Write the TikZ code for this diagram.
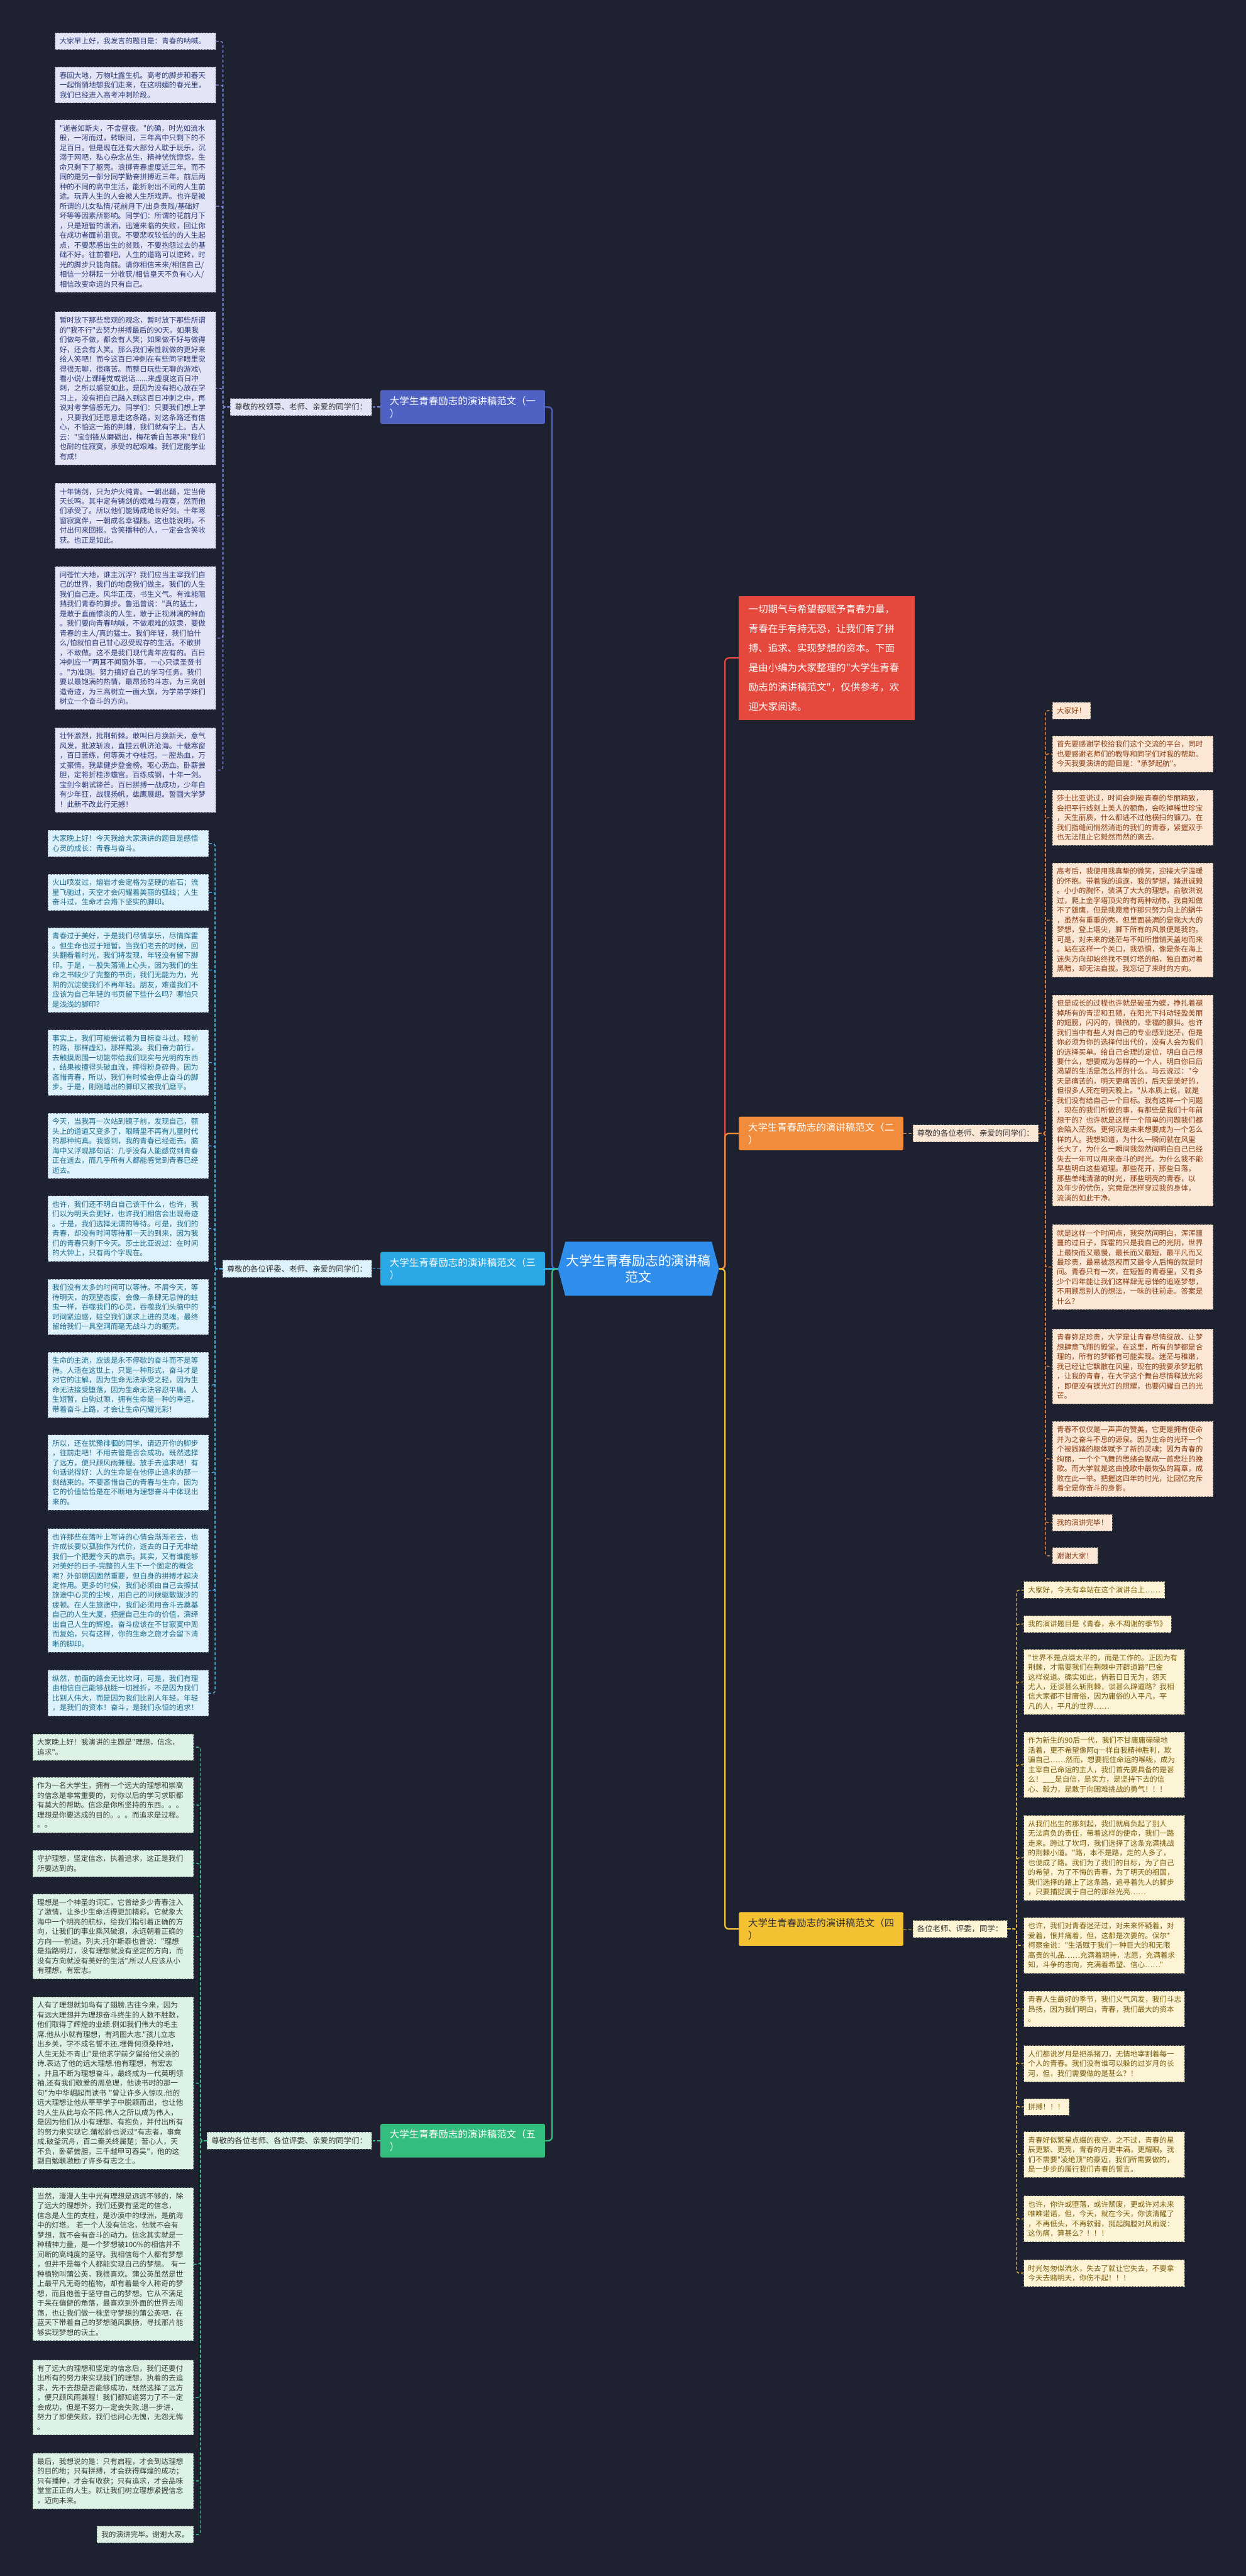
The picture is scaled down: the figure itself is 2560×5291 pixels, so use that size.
\documentclass[tikz,border=0pt]{standalone}
\usepackage{fontspec}
\setmonofont{Noto Sans CJK SC}
\usetikzlibrary{shapes.symbols}
\definecolor{bg}{HTML}{1E2130}
\definecolor{fA}{HTML}{E3E5F7}\definecolor{tA}{HTML}{2E3B78}\definecolor{kA}{HTML}{7C8CE0}\definecolor{nA}{HTML}{4F62C4}
\definecolor{fC}{HTML}{DDF2FA}\definecolor{tC}{HTML}{1D6B8E}\definecolor{kC}{HTML}{45AEE6}\definecolor{nC}{HTML}{2AA7E5}
\definecolor{fE}{HTML}{DCF2E6}\definecolor{tE}{HTML}{3B403D}\definecolor{kE}{HTML}{3DBF8C}\definecolor{nE}{HTML}{33BE7D}
\definecolor{fB}{HTML}{FBE7D6}\definecolor{tB}{HTML}{8A3C10}\definecolor{kB}{HTML}{D9823F}\definecolor{nB}{HTML}{F08C3C}
\definecolor{fD}{HTML}{FCF4D4}\definecolor{tD}{HTML}{7A5B0C}\definecolor{kD}{HTML}{E8BE3E}\definecolor{nD}{HTML}{F4C132}
\definecolor{redn}{HTML}{E5483C}\definecolor{cen}{HTML}{2F8DEB}
\newcommand\fleaf{\ttfamily\fontsize{15pt}{20pt}\selectfont}
\newcommand\flab{\ttfamily\fontsize{16pt}{20pt}\selectfont}
\newcommand\fbr{\ttfamily\fontsize{20pt}{26pt}\selectfont}
\begin{document}
\begin{tikzpicture}[x=1pt,y=-1pt,
  leaf/.style={draw=#1!55!black, dashed, line width=1.2pt, inner xsep=9pt, inner ysep=10pt, font=\fleaf, align=left},
  wide/.style={text width=312pt},
  lfA/.style={leaf=fA, fill=fA, text=tA, anchor=north east},
  lfC/.style={leaf=fC, fill=fC, text=tC, anchor=north east},
  lfE/.style={leaf=fE, fill=fE, text=tE, anchor=north east},
  lfB/.style={leaf=fB, fill=fB, text=tB, anchor=north west},
  lfD/.style={leaf=fD, fill=fD, text=tD, anchor=north west},
  lab/.style={draw=#1!55!black, fill=#1, dashed, line width=1.2pt, inner xsep=9pt, inner ysep=10pt, font=\flab, text=black!80},
  brn/.style={fill=#1, text=white, rounded corners=3pt, inner xsep=19pt, inner ysep=12pt, font=\fbr, align=left, text width=300pt},
  kon/.style={draw=#1, dashed, dash pattern=on 6pt off 4pt, line width=1.8pt, rounded corners=5pt},
  main/.style={draw=#1, line width=3pt, rounded corners=8pt}]
\fill[bg] (0,0) rectangle (2560,5291);
\useasboundingbox (0,0) rectangle (2560,5291);

% ---------- centre ----------
\node[signal, signal to=west and east, signal pointer angle=150, fill=cen, text=white, inner xsep=2pt, inner ysep=26pt, font=\ttfamily\fontsize{27pt}{34pt}\selectfont, align=center] (cn) at (1312,2606) {大学生青春励志的演讲稿\\范文};

\node[fill=redn, text=white, anchor=north west, inner xsep=20pt, inner ysep=18pt, font=\ttfamily\fontsize{20pt}{40pt}\selectfont, align=left, text width=321pt] (intro) at (1518,1224) {一切期气与希望都赋予青春力量，\\青春在手有持无恐，让我们有了拼\\搏、追求、实现梦想的资本。下面\\是由小编为大家整理的"大学生青春\\励志的演讲稿范文"，仅供参考，欢\\迎大家阅读。};

% ---------- branch nodes ----------
\node[brn=nA, anchor=east] (b1) at (1120,836) {大学生青春励志的演讲稿范文（一\\）};
\node[brn=nB, anchor=west] (b2) at (1518,2328) {大学生青春励志的演讲稿范文（二\\）};
\node[brn=nC, anchor=east] (b3) at (1120,2606) {大学生青春励志的演讲稿范文（三\\）};
\node[brn=nD, text=black!80, anchor=west] (b4) at (1518,3962) {大学生青春励志的演讲稿范文（四\\）};
\node[brn=nE, anchor=east] (b5) at (1120,4397) {大学生青春励志的演讲稿范文（五\\）};

\draw[main=nA] (cn.west) -- ++(-12,0) |- (b1.east);
\draw[main=nC] (cn.west) -- (b3.east);
\draw[main=nE] (cn.west) -- ++(-12,0) |- (b5.east);
\draw[main=redn] (cn.east) -- ++(12,0) |- (intro.west);
\draw[main=nB] (cn.east) -- ++(12,0) |- (b2.west);
\draw[main=nD] (cn.east) -- ++(12,0) |- (b4.west);

% ---------- labels ----------
\node[lab=fA, anchor=east] (L1) at (764,836) {尊敬的校领导、老师、亲爱的同学们：};
\node[lab=fC, anchor=east] (L3) at (764,2606) {尊敬的各位评委、老师、亲爱的同学们：};
\node[lab=fE, anchor=east] (L5) at (764,4397) {尊敬的各位老师、各位评委、亲爱的同学们：};
\node[lab=fB, anchor=west] (L2) at (1875,2328) {尊敬的各位老师、亲爱的同学们：};
\node[lab=fD, anchor=west] (L4) at (1875,3962) {各位老师、评委，同学：};
\draw[kon=kA] (b1.west) -- (L1.east);
\draw[kon=kC] (b3.west) -- (L3.east);
\draw[kon=kE] (b5.west) -- (L5.east);
\draw[kon=kB] (b2.east) -- (L2.west);
\draw[kon=kD] (b4.east) -- (L4.west);
\coordinate (v1) at (458,836);
\coordinate (v3) at (442,2606);
\coordinate (v5) at (412,4397);
\coordinate (v2) at (2148,2328);
\coordinate (v4) at (2089,3962);

% ---------- branch 1 ----------
\node[lfA, wide] (a1) at (444,67) {大家早上好，我发言的题目是：青春的呐喊。};
\node[lfA, wide] (a2) at (444,137) {春回大地，万物吐露生机。高考的脚步和春天\\一起悄悄地想我们走来，在这明媚的春光里，\\我们已经进入高考冲刺阶段。};
\node[lfA, wide] (a3) at (444,246) {"逝者如斯夫，不舍昼夜。"的确，时光如流水\\般，一泻而过，转眼间，三年高中只剩下的不\\足百日。但是现在还有大部分人耽于玩乐，沉\\溺于网吧，私心杂念丛生，精神恍恍惚惚，生\\命只剩下了躯壳。浪掷青春虚度近三年。而不\\同的是另一部分同学勤奋拼搏近三年。前后两\\种的不同的高中生活，能折射出不同的人生前\\途。玩弄人生的人会被人生所戏弄。也许是被\\所谓的儿女私情/花前月下/出身贵贱/基础好\\坏等等因素所影响。同学们：所谓的花前月下\\，只是短暂的潇洒，迅速来临的失败，回让你\\在成功者面前沮丧。不要悲叹较低的的人生起\\点，不要悲感出生的贫贱，不要抱怨过去的基\\础不好。往前看吧，人生的道路可以逆转，时\\光的脚步只能向前。请你相信未来/相信自己/\\相信一分耕耘一分收获/相信皇天不负有心人/\\相信改变命运的只有自己。};
\node[lfA, wide] (a4) at (444,640) {暂时放下那些悲观的观念，暂时放下那些所谓\\的"我不行"去努力拼搏最后的90天。如果我\\们做与不做，都会有人笑；如果做不好与做得\\好，还会有人笑。那么我们索性就做的更好来\\给人笑吧！而今这百日冲刺在有些同学眼里觉\\得很无聊，很痛苦。而整日玩些无聊的游戏\textbackslash\\看小说/上课睡觉或说话......来虚度这百日冲\\刺，之所以感觉如此，是因为没有把心放在学\\习上，没有把自己融入到这百日冲刺之中，再\\说对考学倍感无力。同学们：只要我们想上学\\，只要我们还愿意走这条路，对这条路还有信\\心，不怕这一路的荆棘，我们就有学上。古人\\云："宝剑锋从磨砺出，梅花香自苦寒来"我们\\也耐的住寂寞，承受的起艰难。我们定能学业\\有成！};
\node[lfA, wide] (a5) at (444,992) {十年铸剑，只为炉火纯青。一朝出鞘，定当倚\\天长鸣。其中定有铸剑的艰难与寂寞，然而他\\们承受了。所以他们能铸成绝世好剑。十年寒\\窗寂寞伴，一朝成名幸福随。这也能说明，不\\付出何来回报。含笑播种的人，一定会含笑收\\获。也正是如此。};
\node[lfA, wide] (a6) at (444,1163) {问苍忙大地，谁主沉浮？我们应当主宰我们自\\己的世界，我们的地盘我们做主。我们的人生\\我们自己走。风华正茂，书生义气。有谁能阻\\挡我们青春的脚步。鲁迅曾说："真的猛士，\\是敢于直面惨淡的人生，敢于正视淋漓的鲜血\\。我们要向青春呐喊，不做艰难的奴隶，要做\\青春的主人/真的猛士。我们年轻，我们怕什\\么/怕就怕自己甘心忍受现存的生活。不敢拼\\，不敢做。这不是我们现代青年应有的。百日\\冲刺应一"两耳不闻窗外事，一心只读圣贤书\\。"为准则。努力搞好自己的学习任务。我们\\要以最饱满的热情，最昂扬的斗志，为三高创\\造奇迹，为三高树立一面大旗，为学弟学妹们\\树立一个奋斗的方向。};
\node[lfA, wide] (a7) at (444,1494) {壮怀激烈，批荆斩棘。敢叫日月换新天，意气\\风发，批波斩浪，直挂云帆济沧海。十载寒窗\\，百日苦练，何等英才夺桂冠。一腔热血，万\\丈豪情。我辈健步登金榜。呕心沥血。卧薪尝\\胆，定将折桂涉蟾宫。百练成钢，十年一剑。\\宝剑今朝试锋芒。百日拼搏一战成功，少年自\\有少年狂，战舰扬帆，雄鹰展翅。誓圆大学梦\\！此新不改此行无撼！};
\foreach \n in {a1,a2,a3,a4,a5,a6,a7} \draw[kon=kA] (L1.west) -- (v1) |- (\n.east);

% ---------- branch 3 ----------
\node[lfC, wide] (c1) at (429,1705) {大家晚上好！今天我给大家演讲的题目是感悟\\心灵的成长：青春与奋斗。};
\node[lfC, wide] (c2) at (429,1795) {火山喷发过，熔岩才会定格为坚硬的岩石；流\\星飞驰过，天空才会闪耀着美丽的弧线；人生\\奋斗过，生命才会烙下坚实的脚印。};
\node[lfC, wide] (c3) at (429,1905) {青春过于美好，于是我们尽情享乐，尽情挥霍\\。但生命也过于短暂，当我们老去的时候，回\\头翻看着时光，我们将发现，年轻没有留下脚\\印。于是，一股失落涌上心头，因为我们的生\\命之书缺少了完整的书页，我们无能为力，光\\阴的沉淀使我们不再年轻。朋友，难道我们不\\应该为自己年轻的书页留下些什么吗？哪怕只\\是浅浅的脚印？};
\node[lfC, wide] (c4) at (429,2115) {事实上，我们可能尝试着为目标奋斗过。眼前\\的路，那样虚幻，那样黯淡。我们奋力前行，\\去触摸周围一切能带给我们现实与光明的东西\\，结果被撞得头破血流，摔得粉身碎骨。因为\\吝惜青春，所以，我们有时候会停止奋斗的脚\\步。于是，刚刚踏出的脚印又被我们磨平。};
\node[lfC, wide] (c5) at (429,2286) {今天，当我再一次站到镜子前，发现自己，额\\头上的道道又变多了，眼睛里不再有儿童时代\\的那种纯真。我感到，我的青春已经逝去。脑\\海中又浮现那句话：几乎没有人能感觉到青春\\正在逝去，而几乎所有人都能感觉到青春已经\\逝去。};
\node[lfC, wide] (c6) at (429,2456) {也许，我们还不明白自己该干什么，也许，我\\们以为明天会更好，也许我们相信会出现奇迹\\。于是，我们选择无谓的等待。可是，我们的\\青春，却没有时间等待那一天的到来，因为我\\们的青春只剩下今天。莎士比亚说过：在时间\\的大钟上，只有两个字现在。};
\node[lfC, wide] (c7) at (429,2627) {我们没有太多的时间可以等待。不屑今天，等\\待明天，的观望态度，会像一条肆无忌惮的蛀\\虫一样，吞噬我们的心灵，吞噬我们头脑中的\\时间紧迫感，蛀空我们谋求上进的灵魂。最终\\留给我们一具空洞而毫无战斗力的躯壳。};
\node[lfC, wide] (c8) at (429,2777) {生命的主流，应该是永不停歇的奋斗而不是等\\待。人活在这世上，只是一种形式，奋斗才是\\对它的注解，因为生命无法承受之轻，因为生\\命无法接受堕落，因为生命无法容忍平庸。人\\生短暂，白驹过隙，拥有生命是一种的幸运，\\带着奋斗上路，才会让生命闪耀光彩！};
\node[lfC, wide] (c9) at (429,2947) {所以，还在犹豫徘徊的同学，请迈开你的脚步\\，往前走吧！不用去管是否会成功。既然选择\\了远方，便只顾风雨兼程。放手去追求吧！有\\句话说得好：人的生命是在他停止追求的那一\\刻结束的。不要吝惜自己的青春与生命，因为\\它的价值恰恰是在不断地为理想奋斗中体现出\\来的。};
\node[lfC, wide] (c10) at (429,3139) {也许那些在落叶上写诗的心情会渐渐老去，也\\许成长要以孤独作为代价，逝去的日子无非给\\我们一个把握今天的启示。其实，又有谁能够\\对美好的日子-完整的人生下一个固定的概念\\呢？外部原因固然重要，但自身的拼搏才起决\\定作用。更多的时候，我们必须由自己去擦拭\\旅途中心灵的尘埃，用自己的问候驱散跋涉的\\疲顿。在人生旅途中，我们必须用奋斗去奠基\\自己的人生大厦，把握自己生命的价值，演绎\\出自己人生的辉煌。奋斗应该在不甘寂寞中周\\而复始，只有这样，你的生命之旅才会留下清\\晰的脚印。};
\node[lfC, wide] (c11) at (429,3430) {纵然，前面的路会无比坎坷，可是，我们有理\\由相信自己能够战胜一切挫折，不是因为我们\\比别人伟大，而是因为我们比别人年轻。年轻\\，是我们的资本！奋斗，是我们永恒的追求！};
\foreach \n in {c1,c2,c3,c4,c5,c6,c7,c8,c9,c10,c11} \draw[kon=kC] (L3.west) -- (v3) |- (\n.east);

% ---------- branch 5 ----------
\node[lfE, wide] (e1) at (398,3561) {大家晚上好！我演讲的主题是"理想，信念，\\追求"。};
\node[lfE, wide] (e2) at (398,3650) {作为一名大学生，拥有一个远大的理想和崇高\\的信念是非常重要的，对你以后的学习求职都\\有莫大的帮助。信念是你所坚持的东西。。。\\理想是你要达成的目的。。。而追求是过程。\\。。};
\node[lfE, wide] (e3) at (398,3800) {守护理想，坚定信念，执着追求，这正是我们\\所要达到的。};
\node[lfE, wide] (e4) at (398,3890) {理想是一个神圣的词汇，它曾给多少青春注入\\了激情，让多少生命活得更加精彩。它就象大\\海中一个明亮的航标，给我们指引着正确的方\\向，让我们的事业乘风破浪，永远朝着正确的\\方向——前进。列夫.托尔斯泰也曾说："理想\\是指路明灯，没有理想就没有坚定的方向，而\\没有方向就没有美好的生活".所以人应该从小\\有理想，有宏志。};
\node[lfE, wide] (e5) at (398,4101) {人有了理想就如鸟有了翅膀.古往今来，因为\\有远大理想并为理想奋斗终生的人数不胜数，\\他们取得了辉煌的业绩.例如我们伟大的毛主\\席.他从小就有理想，有鸿图大志."孩儿立志\\出乡关，学不成名誓不还.埋骨何须桑梓地，\\人生无处不青山"是他求学前夕留给他父亲的\\诗.表达了他的远大理想.他有理想，有宏志\\，并且不断为理想奋斗，最终成为一代英明领\\袖.还有我们敬爱的周总理，他读书时的那一\\句"为中华崛起而读书 "曾让许多人惊叹.他的\\远大理想让他从莘莘学子中脱颖而出，也让他\\的人生从此与众不同.伟人之所以成为伟人，\\是因为他们从小有理想、有抱负，并付出所有\\的努力来实现它.蒲松龄也说过"有志者，事竟\\成.破釜沉舟，百二秦关终属楚；苦心人，天\\不负，卧薪尝胆，三千越甲可吞吴"，他的这\\副自勉联激励了许多有志之士。};
\node[lfE, wide] (e6) at (398,4493) {当然，漫漫人生中光有理想是远远不够的，除\\了远大的理想外，我们还要有坚定的信念，\\信念是人生的支柱，是沙漠中的绿洲，是航海\\中的灯塔。 若一个人没有信念，他就不会有\\梦想，就不会有奋斗的动力。信念其实就是一\\种精神力量，是一个梦想被100\%的相信并不\\间断的高纯度的坚守。我相信每个人都有梦想\\，但并不是每个人都能实现自己的梦想。 有一\\种植物叫蒲公英，我很喜欢。蒲公英虽然是世\\上最平凡无奇的植物，却有着最令人称奇的梦\\想，而且他善于坚守自己的梦想。它从不满足\\于呆在偏僻的角落，最喜欢到外面的世界去闯\\荡，也让我们做一株坚守梦想的蒲公英吧，在\\蓝天下带着自己的梦想随风飘扬，寻找那片能\\够实现梦想的沃土。};
\node[lfE, wide] (e7) at (398,4847) {有了远大的理想和坚定的信念后，我们还要付\\出所有的努力来实现我们的理想，执着的去追\\求，先不去想是否能够成功，既然选择了远方\\，便只顾风雨兼程！我们都知道努力了不一定\\会成功，但是不努力一定会失败.退一步讲，\\努力了即使失败，我们也问心无愧，无怨无悔\\。};
\node[lfE, wide] (e8) at (398,5038) {最后，我想说的是：只有启程，才会到达理想\\的目的地；只有拼搏，才会获得辉煌的成功；\\只有播种，才会有收获；只有追求，才会品味\\堂堂正正的人生。就让我们树立理想紧握信念\\，迈向未来。};
\node[lfE] (e9) at (398,5188) {我的演讲完毕。谢谢大家。};
\foreach \n in {e1,e2,e3,e4,e5,e6,e7,e8,e9} \draw[kon=kE] (L5.west) -- (v5) |- (\n.east);

% ---------- branch 2 ----------
\node[lfB] (o1) at (2162,1442) {大家好！};
\node[lfB, wide] (o2) at (2162,1511) {首先要感谢学校给我们这个交流的平台，同时\\也要感谢老师们的教导和同学们对我的帮助。\\今天我要演讲的题目是："承梦起航"。};
\node[lfB, wide] (o3) at (2162,1622) {莎士比亚说过，时间会刺破青春的华丽精致，\\会把平行线刻上美人的额角，会吃掉稀世珍宝\\，天生丽质，什么都逃不过他横扫的镰刀。在\\我们指缝间悄然消逝的我们的青春，紧握双手\\也无法阻止它毅然而然的离去。};
\node[lfB, wide] (o4) at (2162,1772) {高考后，我便用我真挚的微笑，迎接大学温暖\\的怀抱。带着我的追逐，我的梦想，踏进诚毅\\。小小的胸怀，装满了大大的理想。俞敏洪说\\过，爬上金字塔顶尖的有两种动物，我自知做\\不了雄鹰，但是我愿意作那只努力向上的蜗牛\\，虽然有重重的壳，但里面装满的是我大大的\\梦想，登上塔尖，脚下所有的风景便是我的。\\可是，对未来的迷茫与不知所措铺天盖地而来\\。站在这样一个关口，我恐惧，像是条在海上\\迷失方向却始终找不到灯塔的船，独自面对着\\黑暗，却无法自拔。我忘记了来时的方向。};
\node[lfB, wide] (o5) at (2162,2043) {但是成长的过程也许就是破茧为蝶，挣扎着褪\\掉所有的青涩和丑陋，在阳光下抖动轻盈美丽\\的翅膀，闪闪的，微微的，幸福的颤抖。也许\\我们当中有些人对自己的专业感到迷茫，但是\\你必须为你的选择付出代价，没有人会为我们\\的选择买单。给自己合理的定位，明白自己想\\要什么，想要成为怎样的一个人，明白你日后\\渴望的生活是怎么样的什么。马云说过："今\\天是痛苦的，明天更痛苦的，后天是美好的，\\但很多人死在明天晚上。"从本质上说，就是\\我们没有给自己一个目标。我有这样一个问题\\，现在的我们所做的事，有那些是我们十年前\\想干的？也许就是这样一个简单的问题我们都\\会陷入茫然。更何况是未来想要成为一个怎么\\样的人。我想知道，为什么一瞬间就在风里\\长大了，为什么一瞬间我忽然间明白自己已经\\失去一年可以用来奋斗的时光。为什么我不能\\早些明白这些道理。那些花开，那些日落，\\那些单纯清澈的时光，那些明亮的青春，以\\及年少的忧伤，究竟是怎样穿过我的身体，\\流淌的如此干净。};
\node[lfB, wide] (o6) at (2162,2515) {就是这样一个时间点，我突然间明白，浑浑噩\\噩的过日子，挥霍的只是我自己的光阴，世界\\上最快而又最慢，最长而又最短，最平凡而又\\最珍贵，最易被忽视而又最令人后悔的就是时\\间。青春只有一次，在短暂的青春里，又有多\\少个四年能让我们这样肆无忌惮的追逐梦想，\\不用顾忌别人的想法，一味的往前走。答案是\\什么？};
\node[lfB, wide] (o7) at (2162,2729) {青春弥足珍贵，大学是让青春尽情绽放、让梦\\想肆意飞翔的殿堂。在这里，所有的梦都是合\\理的，所有的梦都有可能实现。迷茫与稚嫩，\\我已经让它飘散在风里，现在的我要承梦起航\\，让我的青春，在大学这个舞台尽情释放光彩\\，即便没有镁光灯的照耀，也要闪耀自己的光\\芒。};
\node[lfB, wide] (o8) at (2162,2919) {青春不仅仅是一声声的赞美，它更是拥有使命\\并为之奋斗不息的源泉。因为生命的光环一个\\个被践踏的躯体赋予了新的灵魂；因为青春的\\绚丽，一个个飞舞的思绪会聚成一首悲壮的挽\\歌。而大学就是这曲挽歌中最恢弘的篇章，成\\败在此一举。把握这四年的时光，让回忆充斥\\着全是你奋斗的身影。};
\node[lfB] (o9) at (2162,3110) {我的演讲完毕！};
\node[lfB] (o10) at (2162,3178) {谢谢大家！};
\foreach \n in {o1,o2,o3,o4,o5,o6,o7,o8,o9,o10} \draw[kon=kB] (L2.east) -- (v2) |- (\n.west);

% ---------- branch 4 ----------
\node[lfD] (y1) at (2103,3248) {大家好，今天有幸站在这个演讲台上……};
\node[lfD] (y2) at (2103,3318) {我的演讲题目是《青春，永不凋谢的季节》};
\node[lfD, wide] (y3) at (2103,3387) {"世界不是点缀太平的，而是工作的。正因为有\\荆棘，才需要我们在荆棘中开辟道路"巴金\\这样说道。确实如此，倘若日日无为，怨天\\尤人，还谈甚么斩荆棘，谈甚么辟道路？我相\\信大家都不甘庸俗，因为庸俗的人平凡，平\\凡的人，平凡的世界……};
\node[lfD, wide] (y4) at (2103,3557) {作为新生的90后一代，我们不甘庸庸碌碌地\\活着，更不希望像阿q一样自我精神胜利，欺\\骗自己……然而，想要扼住命运的喉咙，成为\\主宰自己命运的主人，我们首先要具备的是甚\\么！\_\_\_是自信，是实力，是坚持下去的信\\心、毅力，是敢于向困难挑战的勇气！！！};
\node[lfD, wide] (y5) at (2103,3728) {从我们出生的那刻起，我们就肩负起了别人\\无法肩负的责任，带着这样的使命，我们一路\\走来。跨过了坎坷，我们选择了这条充满挑战\\的荆棘小道。"路，本不是路，走的人多了，\\也便成了路。我们为了我们的目标，为了自己\\的希望，为了不悔的青春，为了明天的祖国，\\我们选择的踏上了这条路，追寻着先人的脚步\\，只要捕捉属于自己的那丝光亮……};
\node[lfD, wide] (y6) at (2103,3938) {也许，我们对青春迷茫过，对未来怀疑着，对\\爱着，恨并痛着，但，这都是次要的。保尔*\\柯察金说："生活赋于我们一种巨大的和无限\\高贵的礼品……充满着期待，志愿，充满着求\\知，斗争的志向，充满着希望、信心……"};
\node[lfD, wide] (y7) at (2103,4089) {青春人生最好的季节，我们义气风发，我们斗志\\昂扬，因为我们明白，青春，我们最大的资本\\。};
\node[lfD, wide] (y8) at (2103,4201) {人们都说岁月是把杀猪刀，无情地宰割着每一\\个人的青春。我们没有谁可以躲的过岁月的长\\河，但，我们需要做的是甚么？！};
\node[lfD] (y9) at (2103,4310) {拼搏！！！};
\node[lfD, wide] (y10) at (2103,4378) {青春好似繁星点缀的夜空，之不过，青春的星\\辰更繁、更亮，青春的月更丰满，更耀眼。我\\们不需要"凌绝顶"的豪迈，我们所需要做的，\\是一步步的履行我们青春的誓言。};
\node[lfD, wide] (y11) at (2103,4510) {也许，你许或堕落，或许颓废，更或许对未来\\唯唯诺诺，但，今天，就在今天，你该清醒了\\，不再低头，不再软弱，挺起胸膛对风雨说：\\这伤痛，算甚么？！！！};
\node[lfD, wide] (y12) at (2103,4641) {时光匆匆似流水，失去了就让它失去，不要拿\\今天去赌明天，你伤不起！！！};
\foreach \n in {y1,y2,y3,y4,y5,y6,y7,y8,y9,y10,y11,y12} \draw[kon=kD] (L4.east) -- (v4) |- (\n.west);
\end{tikzpicture}
\end{document}
